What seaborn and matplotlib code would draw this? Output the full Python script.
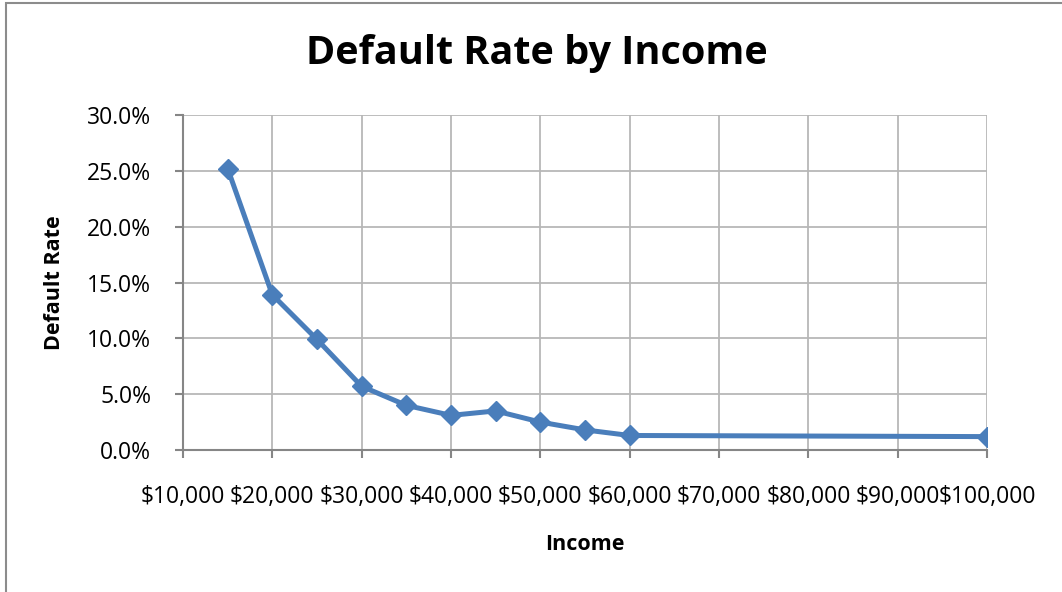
import matplotlib
matplotlib.use("Agg")
import matplotlib.pyplot as plt
from matplotlib.patches import Rectangle
from matplotlib.ticker import FuncFormatter
import pandas as pd
import seaborn as sns

# Default rate by income bracket
income = [15000, 20000, 25000, 30000, 35000, 40000, 45000, 50000, 55000, 60000, 100000]
default_rate = [0.252, 0.139, 0.099, 0.057, 0.040, 0.031, 0.035, 0.025, 0.018, 0.013, 0.012]

x_ticks = [10000, 20000, 30000, 40000, 50000, 60000, 70000, 80000, 90000, 100000]
y_ticks = [0.0, 0.05, 0.10, 0.15, 0.20, 0.25, 0.30]

title = "Default Rate by Income"
x_label = "Income"
y_label = "Default Rate"

df = pd.DataFrame({"Income": income, "Default Rate": default_rate})

sns.set_style("white")
plt.rcParams["font.family"] = ["Open Sans", "DejaVu Sans"]
plt.rcParams["text.color"] = "black"
plt.rcParams["axes.labelcolor"] = "black"

W, H = 1062, 592
fig = plt.figure(figsize=(W / 100, H / 100), dpi=100)
fig.patch.set_facecolor("white")

# plot area in pixel terms
left, right, top, bottom = 183, 987, 115, 450
ax = fig.add_axes([left / W, 1 - bottom / H, (right - left) / W, (bottom - top) / H])

line_color = "#4A7EBB"
sns.lineplot(data=df, x="Income", y="Default Rate", ax=ax, color=line_color,
             linewidth=3.6, marker="D", markersize=10, markeredgewidth=1,
             markeredgecolor=line_color, markerfacecolor=line_color, zorder=3)

ax.set_xlim(x_ticks[0], x_ticks[-1])
ax.set_ylim(y_ticks[0], y_ticks[-1])
ax.set_xticks(x_ticks)
ax.set_yticks(y_ticks)
ax.xaxis.set_major_formatter(FuncFormatter(lambda v, p: f"${v:,.0f}"))
ax.yaxis.set_major_formatter(FuncFormatter(lambda v, p: f"{v * 100:.1f}%"))

grid_color = "#B7B7B7"
axis_color = "#868686"
ax.grid(True, color=grid_color, linewidth=1.3)
ax.set_axisbelow(True)
for side in ["top", "right"]:
    ax.spines[side].set_visible(False)
for side in ["left", "bottom"]:
    ax.spines[side].set_color(axis_color)
    ax.spines[side].set_linewidth(1.5)
ax.spines["bottom"].set_zorder(2.5)

ax.tick_params(axis="x", direction="out", length=6, width=1.5, color=axis_color,
               labelsize=16.5, pad=19, labelcolor="black", bottom=True)
ax.tick_params(axis="y", direction="out", length=6, width=1.5, color=axis_color,
               labelsize=16.5, pad=17, labelcolor="black", left=True)

ax.set_xlabel(x_label, fontsize=15.5, fontweight="bold", color="black")
ax.set_ylabel(y_label, fontsize=15.5, fontweight="bold", color="black")
ax.xaxis.set_label_coords((585 - left) / (right - left), (bottom - 545) / (bottom - top))
ax.xaxis.label.set_va("center")
ax.yaxis.set_label_coords((55 - left) / (right - left), (bottom - 283) / (bottom - top))
ax.yaxis.label.set_va("center")

fig.text(537 / W, 1 - 64 / H, title, ha="center", va="baseline",
         fontsize=28.5, fontweight="bold", color="black")

# chart frame
fig.add_artist(Rectangle((5.5 / W, -0.05), 1.2, 1.05 - 3.5 / H,
                         transform=fig.transFigure, fill=False,
                         edgecolor="#8C8C8C", linewidth=1.5, clip_on=False))

fig.savefig("out.png", dpi=100, facecolor="white")
